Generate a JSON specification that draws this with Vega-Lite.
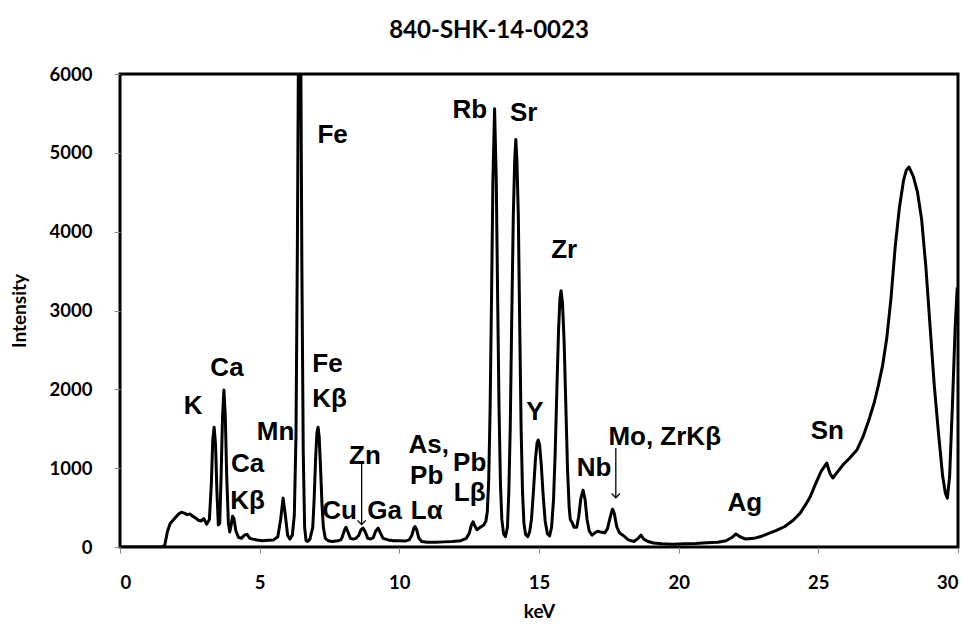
{
  "$schema": "https://vega.github.io/schema/vega-lite/v6.json",
  "width": 838,
  "height": 473,
  "autosize": {"type": "none"},
  "padding": {"left": 120, "top": 74, "right": 16, "bottom": 83},
  "background": "white",
  "title": {
    "text": "840-SHK-14-0023",
    "font": "Lato",
    "fontSize": 24,
    "fontWeight": "bold",
    "color": "black",
    "offset": 22,
    "dx": -50
  },
  "config": {
    "view": {"stroke": "black", "strokeWidth": 3},
    "axis": {
      "labelFont": "Lato",
      "labelFontSize": 18.5,
      "labelFontWeight": "bold",
      "labelColor": "black",
      "titleFont": "Lato",
      "titleFontSize": 19,
      "titleFontWeight": "bold",
      "titleColor": "black",
      "grid": false,
      "domain": false,
      "tickColor": "#888888",
      "tickSize": 6,
      "tickWidth": 1
    }
  },
  "datasets": {
    "spectrum": [
      {"keV": 0, "I": 0}, {"keV": 1.5, "I": 0}, {"keV": 1.6, "I": 20}, {"keV": 1.7, "I": 200},
      {"keV": 1.8, "I": 300}, {"keV": 1.9, "I": 340}, {"keV": 2.0, "I": 380}, {"keV": 2.1, "I": 420},
      {"keV": 2.2, "I": 440}, {"keV": 2.3, "I": 430}, {"keV": 2.4, "I": 410}, {"keV": 2.5, "I": 420},
      {"keV": 2.6, "I": 390}, {"keV": 2.7, "I": 370}, {"keV": 2.8, "I": 340}, {"keV": 2.9, "I": 330},
      {"keV": 3.0, "I": 360}, {"keV": 3.1, "I": 290}, {"keV": 3.2, "I": 350}, {"keV": 3.27, "I": 800},
      {"keV": 3.32, "I": 1350}, {"keV": 3.37, "I": 1520}, {"keV": 3.42, "I": 1300}, {"keV": 3.47, "I": 700},
      {"keV": 3.52, "I": 280}, {"keV": 3.57, "I": 300}, {"keV": 3.62, "I": 900}, {"keV": 3.67, "I": 1650},
      {"keV": 3.72, "I": 1990}, {"keV": 3.77, "I": 1650}, {"keV": 3.82, "I": 900}, {"keV": 3.88, "I": 300},
      {"keV": 3.93, "I": 190}, {"keV": 3.98, "I": 280}, {"keV": 4.03, "I": 390}, {"keV": 4.08, "I": 360},
      {"keV": 4.15, "I": 200}, {"keV": 4.25, "I": 120}, {"keV": 4.35, "I": 110}, {"keV": 4.45, "I": 150},
      {"keV": 4.55, "I": 160}, {"keV": 4.65, "I": 110}, {"keV": 4.75, "I": 100}, {"keV": 4.9, "I": 90},
      {"keV": 5.1, "I": 80}, {"keV": 5.3, "I": 85}, {"keV": 5.5, "I": 90}, {"keV": 5.65, "I": 130},
      {"keV": 5.75, "I": 350}, {"keV": 5.84, "I": 620}, {"keV": 5.92, "I": 400}, {"keV": 6.0, "I": 150},
      {"keV": 6.08, "I": 100}, {"keV": 6.17, "I": 150}, {"keV": 6.24, "I": 400}, {"keV": 6.3, "I": 1400},
      {"keV": 6.35, "I": 3800}, {"keV": 6.39, "I": 6400}, {"keV": 6.43, "I": 11000}, {"keV": 6.47, "I": 6400},
      {"keV": 6.51, "I": 3600}, {"keV": 6.56, "I": 1200}, {"keV": 6.61, "I": 250}, {"keV": 6.66, "I": 80},
      {"keV": 6.72, "I": 70}, {"keV": 6.8, "I": 100}, {"keV": 6.9, "I": 250}, {"keV": 6.95, "I": 600},
      {"keV": 7.0, "I": 1100}, {"keV": 7.05, "I": 1450}, {"keV": 7.09, "I": 1520}, {"keV": 7.13, "I": 1400},
      {"keV": 7.18, "I": 1000}, {"keV": 7.23, "I": 550}, {"keV": 7.28, "I": 250}, {"keV": 7.35, "I": 110},
      {"keV": 7.45, "I": 80}, {"keV": 7.6, "I": 70}, {"keV": 7.8, "I": 80}, {"keV": 7.9, "I": 90},
      {"keV": 7.95, "I": 120}, {"keV": 8.03, "I": 210}, {"keV": 8.09, "I": 250}, {"keV": 8.15, "I": 200},
      {"keV": 8.25, "I": 110}, {"keV": 8.35, "I": 100}, {"keV": 8.45, "I": 110}, {"keV": 8.55, "I": 150},
      {"keV": 8.63, "I": 220}, {"keV": 8.7, "I": 240}, {"keV": 8.77, "I": 200}, {"keV": 8.87, "I": 110},
      {"keV": 8.97, "I": 100}, {"keV": 9.07, "I": 120}, {"keV": 9.15, "I": 200}, {"keV": 9.24, "I": 240},
      {"keV": 9.32, "I": 180}, {"keV": 9.42, "I": 110}, {"keV": 9.6, "I": 90}, {"keV": 9.8, "I": 80},
      {"keV": 10.0, "I": 80}, {"keV": 10.2, "I": 75}, {"keV": 10.35, "I": 90}, {"keV": 10.45, "I": 150},
      {"keV": 10.52, "I": 240}, {"keV": 10.56, "I": 260}, {"keV": 10.62, "I": 220}, {"keV": 10.7, "I": 110},
      {"keV": 10.8, "I": 70}, {"keV": 11.0, "I": 60}, {"keV": 11.3, "I": 60}, {"keV": 11.6, "I": 65},
      {"keV": 11.9, "I": 70}, {"keV": 12.2, "I": 80}, {"keV": 12.4, "I": 110}, {"keV": 12.5, "I": 170},
      {"keV": 12.58, "I": 280}, {"keV": 12.64, "I": 320}, {"keV": 12.7, "I": 270}, {"keV": 12.78, "I": 220},
      {"keV": 12.86, "I": 240}, {"keV": 12.94, "I": 260}, {"keV": 13.02, "I": 280}, {"keV": 13.1, "I": 330},
      {"keV": 13.15, "I": 450}, {"keV": 13.2, "I": 850}, {"keV": 13.25, "I": 1750}, {"keV": 13.3, "I": 3150},
      {"keV": 13.35, "I": 4650}, {"keV": 13.41, "I": 5560}, {"keV": 13.47, "I": 4650}, {"keV": 13.52, "I": 3150},
      {"keV": 13.57, "I": 1750}, {"keV": 13.62, "I": 800}, {"keV": 13.67, "I": 350}, {"keV": 13.73, "I": 170},
      {"keV": 13.8, "I": 130}, {"keV": 13.87, "I": 250}, {"keV": 13.92, "I": 700}, {"keV": 13.97, "I": 1500},
      {"keV": 14.02, "I": 2800}, {"keV": 14.08, "I": 4200}, {"keV": 14.13, "I": 4900}, {"keV": 14.17, "I": 5170},
      {"keV": 14.21, "I": 4900}, {"keV": 14.26, "I": 4200}, {"keV": 14.31, "I": 2800}, {"keV": 14.36, "I": 1500},
      {"keV": 14.41, "I": 700}, {"keV": 14.46, "I": 300}, {"keV": 14.52, "I": 160}, {"keV": 14.6, "I": 130},
      {"keV": 14.67, "I": 200}, {"keV": 14.73, "I": 350}, {"keV": 14.8, "I": 700}, {"keV": 14.87, "I": 1100},
      {"keV": 14.93, "I": 1320}, {"keV": 14.97, "I": 1357}, {"keV": 15.02, "I": 1300}, {"keV": 15.08, "I": 1050},
      {"keV": 15.15, "I": 650}, {"keV": 15.22, "I": 330}, {"keV": 15.3, "I": 170}, {"keV": 15.38, "I": 140},
      {"keV": 15.45, "I": 250}, {"keV": 15.52, "I": 600}, {"keV": 15.58, "I": 1200}, {"keV": 15.64, "I": 2000},
      {"keV": 15.7, "I": 2750}, {"keV": 15.75, "I": 3150}, {"keV": 15.79, "I": 3250}, {"keV": 15.84, "I": 3100},
      {"keV": 15.9, "I": 2600}, {"keV": 15.96, "I": 1800}, {"keV": 16.02, "I": 1000}, {"keV": 16.08, "I": 500},
      {"keV": 16.12, "I": 350}, {"keV": 16.2, "I": 300}, {"keV": 16.25, "I": 250}, {"keV": 16.35, "I": 250},
      {"keV": 16.42, "I": 380}, {"keV": 16.5, "I": 620}, {"keV": 16.58, "I": 720}, {"keV": 16.65, "I": 600},
      {"keV": 16.72, "I": 350}, {"keV": 16.8, "I": 200}, {"keV": 16.9, "I": 150}, {"keV": 17.0, "I": 180},
      {"keV": 17.1, "I": 200}, {"keV": 17.2, "I": 190}, {"keV": 17.35, "I": 180}, {"keV": 17.45, "I": 230},
      {"keV": 17.55, "I": 380}, {"keV": 17.63, "I": 480}, {"keV": 17.7, "I": 420}, {"keV": 17.78, "I": 260},
      {"keV": 17.88, "I": 180}, {"keV": 18.0, "I": 150}, {"keV": 18.2, "I": 90}, {"keV": 18.4, "I": 70},
      {"keV": 18.55, "I": 110}, {"keV": 18.65, "I": 150}, {"keV": 18.75, "I": 100}, {"keV": 18.9, "I": 70},
      {"keV": 19.1, "I": 50}, {"keV": 19.4, "I": 40}, {"keV": 19.8, "I": 35}, {"keV": 20.2, "I": 40},
      {"keV": 20.6, "I": 45}, {"keV": 21.0, "I": 55}, {"keV": 21.4, "I": 60}, {"keV": 21.7, "I": 80},
      {"keV": 21.9, "I": 120}, {"keV": 22.05, "I": 165}, {"keV": 22.2, "I": 130}, {"keV": 22.4, "I": 100},
      {"keV": 22.7, "I": 110}, {"keV": 23.0, "I": 140}, {"keV": 23.5, "I": 210}, {"keV": 23.8, "I": 260},
      {"keV": 24.1, "I": 340}, {"keV": 24.35, "I": 430}, {"keV": 24.55, "I": 540}, {"keV": 24.7, "I": 630},
      {"keV": 24.9, "I": 800}, {"keV": 25.1, "I": 960}, {"keV": 25.3, "I": 1065}, {"keV": 25.42, "I": 930},
      {"keV": 25.52, "I": 875}, {"keV": 25.7, "I": 960}, {"keV": 25.9, "I": 1050}, {"keV": 26.1, "I": 1120},
      {"keV": 26.38, "I": 1230}, {"keV": 26.6, "I": 1400}, {"keV": 26.8, "I": 1600}, {"keV": 27.0, "I": 1830},
      {"keV": 27.15, "I": 2050}, {"keV": 27.3, "I": 2300}, {"keV": 27.45, "I": 2650}, {"keV": 27.6, "I": 3150},
      {"keV": 27.75, "I": 3800}, {"keV": 27.9, "I": 4300}, {"keV": 28.05, "I": 4650}, {"keV": 28.15, "I": 4780},
      {"keV": 28.25, "I": 4820}, {"keV": 28.4, "I": 4700}, {"keV": 28.55, "I": 4500}, {"keV": 28.7, "I": 4150},
      {"keV": 28.85, "I": 3550}, {"keV": 29.0, "I": 2800}, {"keV": 29.15, "I": 2050}, {"keV": 29.3, "I": 1450},
      {"keV": 29.45, "I": 900}, {"keV": 29.55, "I": 680}, {"keV": 29.62, "I": 620}, {"keV": 29.7, "I": 900},
      {"keV": 29.8, "I": 1800}, {"keV": 29.9, "I": 2800}, {"keV": 29.97, "I": 3280}, {"keV": 30.0, "I": 3280}
    ],
    "labels": [
      {"keV": 7.61, "I": 5226, "t": "Fe"},
      {"keV": 12.52, "I": 5544, "t": "Rb"},
      {"keV": 14.45, "I": 5506, "t": "Sr"},
      {"keV": 15.9, "I": 3768, "t": "Zr"},
      {"keV": 3.83, "I": 2270, "t": "Ca"},
      {"keV": 2.62, "I": 1789, "t": "K"},
      {"keV": 5.57, "I": 1459, "t": "Mn"},
      {"keV": 7.43, "I": 2321, "t": "Fe"},
      {"keV": 7.5, "I": 1877, "t": "Kβ"},
      {"keV": 4.57, "I": 1053, "t": "Ca"},
      {"keV": 4.57, "I": 584, "t": "Kβ"},
      {"keV": 8.77, "I": 1155, "t": "Zn"},
      {"keV": 7.86, "I": 457, "t": "Cu"},
      {"keV": 9.47, "I": 457, "t": "Ga"},
      {"keV": 11.05, "I": 1290, "t": "As,"},
      {"keV": 10.98, "I": 900, "t": "Pb"},
      {"keV": 10.98, "I": 460, "t": "Lα"},
      {"keV": 12.52, "I": 1060, "t": "Pb"},
      {"keV": 12.52, "I": 690, "t": "Lβ"},
      {"keV": 14.85, "I": 1712, "t": "Y"},
      {"keV": 16.97, "I": 1002, "t": "Nb"},
      {"keV": 19.5, "I": 1395, "t": "Mo, ZrKβ"},
      {"keV": 22.37, "I": 558, "t": "Ag"},
      {"keV": 25.32, "I": 1471, "t": "Sn"}
    ],
    "arrows": [
      {"keV": 8.65, "I": 1066, "I2": 285},
      {"keV": 17.75, "I": 1256, "I2": 625}
    ]
  },
  "layer": [
    {
      "data": {"name": "spectrum"},
      "mark": {"type": "line", "color": "black", "strokeWidth": 3, "clip": true, "strokeJoin": "round"},
      "encoding": {
        "x": {
          "field": "keV", "type": "quantitative",
          "scale": {"domain": [0, 30], "nice": false, "zero": false},
          "axis": {"values": [0, 5, 10, 15, 20, 25, 30], "format": "d", "title": "keV", "labelPadding": 20, "titlePadding": 11}
        },
        "y": {
          "field": "I", "type": "quantitative",
          "scale": {"domain": [0, 6000], "nice": false},
          "axis": {"values": [0, 1000, 2000, 3000, 4000, 5000, 6000], "format": "d", "title": "Intensity", "labelPadding": 22, "titlePadding": 20}
        }
      }
    },
    {
      "data": {"name": "arrows"},
      "mark": {"type": "rule", "color": "black", "strokeWidth": 1.3},
      "encoding": {
        "x": {"field": "keV", "type": "quantitative"},
        "y": {"field": "I", "type": "quantitative"},
        "y2": {"field": "I2"}
      }
    },
    {
      "data": {"name": "arrows"},
      "mark": {"type": "point", "shape": "M-1,-1L0,0L1,-1", "size": 70, "filled": false, "color": "black", "strokeWidth": 1.3, "opacity": 1},
      "encoding": {
        "x": {"field": "keV", "type": "quantitative"},
        "y": {"field": "I2", "type": "quantitative"}
      }
    },
    {
      "data": {"name": "labels"},
      "mark": {"type": "text", "font": "Liberation Sans", "fontSize": 26, "fontWeight": "bold", "color": "black", "align": "center", "baseline": "middle"},
      "encoding": {
        "x": {"field": "keV", "type": "quantitative"},
        "y": {"field": "I", "type": "quantitative"},
        "text": {"field": "t"}
      }
    }
  ]
}
